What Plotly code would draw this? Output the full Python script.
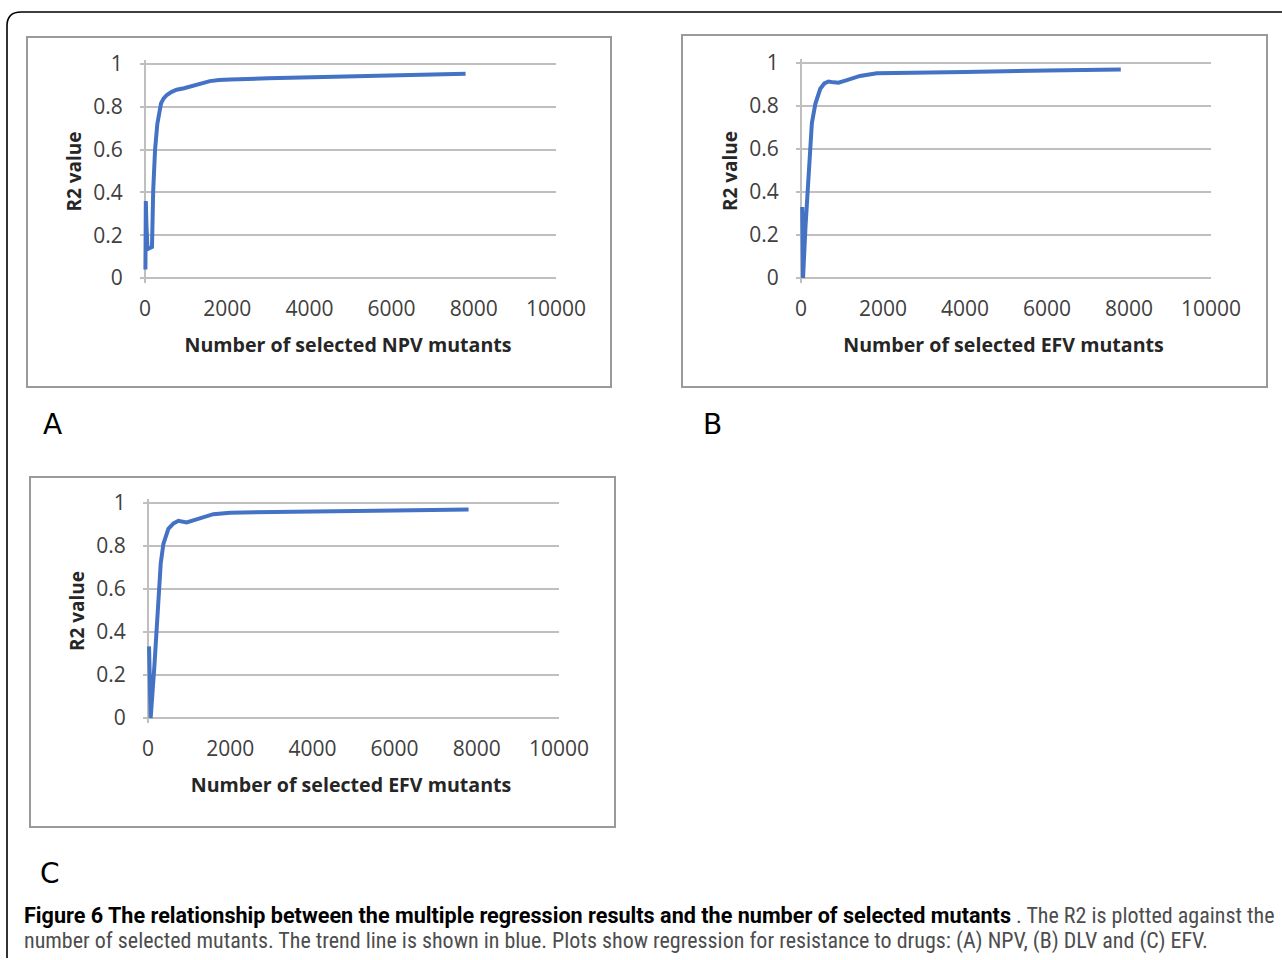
import plotly.graph_objects as go

W, H = 1282, 960

# ---------------- data ----------------
npv_x = [10, 20, 35, 60, 100, 170, 200, 245, 300, 390, 450, 530, 650, 770, 950, 1100, 1350, 1580, 1800, 2070, 3000, 4000, 5000, 6000, 7000, 7800]
npv_y = [0.04, 0.36, 0.25, 0.135, 0.14, 0.145, 0.41, 0.60, 0.72, 0.816, 0.838, 0.855, 0.87, 0.88, 0.887, 0.895, 0.91, 0.92, 0.925, 0.928, 0.933, 0.937, 0.941, 0.946, 0.951, 0.955]

dlv_x = [30, 50, 110, 160, 210, 265, 350, 470, 570, 670, 800, 915, 1120, 1440, 1850, 2500, 4000, 6000, 7800]
dlv_y = [0.33, 0.0, 0.24, 0.41, 0.60, 0.72, 0.81, 0.88, 0.905, 0.914, 0.91, 0.908, 0.92, 0.94, 0.952, 0.955, 0.958, 0.965, 0.97]

efv_x = [25, 65, 155, 210, 250, 310, 375, 495, 620, 740, 940, 1180, 1590, 2000, 2600, 4000, 6000, 7800]
efv_y = [0.333, 0.0, 0.24, 0.41, 0.60, 0.72, 0.81, 0.88, 0.905, 0.917, 0.91, 0.925, 0.948, 0.955, 0.956, 0.959, 0.965, 0.97]

x_ticks = [0, 2000, 4000, 6000, 8000, 10000]
y_ticks = [0, 0.2, 0.4, 0.6, 0.8, 1]
y_tick_text = ["0", "0.2", "0.4", "0.6", "0.8", "1"]

panels = [
    (npv_x, npv_y, "Number of selected NPV mutants", "A"),
    (dlv_x, dlv_y, "Number of selected EFV mutants", "B"),
    (efv_x, efv_y, "Number of selected EFV mutants", "C"),
]

caption_bold = "Figure 6 The relationship between the multiple regression results and the number of selected mutants"
caption_tail = ". The R2 is plotted against the"
caption_line2 = ("number of selected mutants. The trend line is shown in blue. "
                 "Plots show regression for resistance to drugs: (A) NPV, (B) DLV and (C) EFV.")

# ---------------- layout geometry (pixels) ----------------
anchors = [(145, 556, 278, 64), (801, 1211, 278, 63), (148, 559, 718, 503)]
boxes = [(27, 37, 611, 387), (682, 35, 1267, 387), (30, 477, 615, 827)]
letters = [(52, 424), (712, 424), (50, 873)]

XR = (-120, 10000)
YR = (-0.025, 1.02)

BLUE = "#4472C4"
GRID = "#bfbfbf"
TICKC = "#404040"
TF = "Open Sans, Noto Sans, sans-serif"

fig = go.Figure()
layout = dict(
    template="none",
    width=W, height=H, margin=dict(l=0, r=0, t=0, b=0, pad=0), autosize=False,
    paper_bgcolor="white", plot_bgcolor="white", showlegend=False,
)
shapes = []
annotations = []

for i, ((xs, ys, xt, let), (x0, x1, y0, y1), box, lpos) in enumerate(zip(panels, anchors, boxes, letters)):
    n = "" if i == 0 else str(i + 1)
    pxu = (x1 - x0) / 10000.0
    pyu = (y0 - y1) / 1.0
    left = x0 + XR[0] * pxu
    right = x0 + XR[1] * pxu
    bottom = y0 - YR[0] * pyu
    top = y0 - YR[1] * pyu
    fig.add_trace(go.Scatter(
        x=xs, y=ys, mode="lines", line=dict(color=BLUE, width=4),
        xaxis="x" + n, yaxis="y" + n, hoverinfo="skip",
    ))
    layout["xaxis" + n] = dict(
        domain=[left / W, right / W], range=list(XR), anchor="y" + n, automargin=False,
        tickvals=x_ticks, ticktext=[str(v) for v in x_ticks],
        showgrid=False, zeroline=True, zerolinecolor=GRID, zerolinewidth=2,
        showline=False, ticks="outside", ticklen=6, tickcolor="rgba(0,0,0,0)",
        tickfont=dict(family=TF, size=21, color=TICKC),
        title=dict(text="<b>" + xt + "</b>", font=dict(family=TF, size=19.6, color="#262626"), standoff=17),
        fixedrange=True,
    )
    layout["yaxis" + n] = dict(
        domain=[1 - bottom / H, 1 - top / H], range=list(YR), anchor="x" + n, automargin=False,
        tickvals=y_ticks, ticktext=y_tick_text,
        showgrid=True, gridcolor=GRID, gridwidth=2, zeroline=False, showline=False,
        ticks="outside", ticklen=12, tickcolor="rgba(0,0,0,0)",
        tickfont=dict(family=TF, size=21, color=TICKC),
        title=dict(text="<b>R2 value</b>", font=dict(family=TF, size=19, color="#262626"), standoff=6),
        fixedrange=True,
    )
    bx0, by0, bx1, by1 = box
    shapes.append(dict(type="rect", xref="paper", yref="paper",
                       x0=bx0 / W, x1=bx1 / W, y0=1 - by0 / H, y1=1 - by1 / H,
                       line=dict(color="#9a9a9a", width=2), layer="below"))
    annotations.append(dict(text=let, x=lpos[0] / W, y=1 - lpos[1] / H, xref="paper", yref="paper",
                            showarrow=False, xanchor="center", yanchor="middle",
                            font=dict(family="DejaVu Sans, sans-serif", size=28, color="black")))

def P(x, y):
    return f"{x / W:.5f},{1 - y / H:.5f}"

shapes.append(dict(type="path", xref="paper", yref="paper",
                   path=f"M {P(7, 958)} L {P(7, 26)} Q {P(7, 12)} {P(21, 12)} L {P(1282, 12)}",
                   line=dict(color="black", width=1.6)))

CF = "Roboto Condensed, Noto Sans Condensed, Liberation Sans"
annotations.append(dict(
    text="<b>" + caption_bold + "</b>",
    x=22 / W, y=1 - 915 / H, xref="paper", yref="paper", showarrow=False,
    xanchor="left", yanchor="middle", font=dict(family="Roboto, sans-serif", size=21.6, color="black")))
annotations.append(dict(
    text=caption_tail,
    x=1276 / W, y=1 - 915 / H, xref="paper", yref="paper", showarrow=False,
    xanchor="right", yanchor="middle", font=dict(family=CF, size=22, color="#4d4d4d")))
annotations.append(dict(
    text=caption_line2,
    x=22 / W, y=1 - 941 / H, xref="paper", yref="paper", showarrow=False,
    xanchor="left", yanchor="middle", font=dict(family=CF, size=22, color="#4d4d4d")))

layout["shapes"] = shapes
layout["annotations"] = annotations
fig.update_layout(**layout)
fig.write_html(
    "out.html",
    config={"displayModeBar": False},
    post_script="document.body.style.margin='0';document.body.style.overflow='hidden';document.documentElement.style.overflow='hidden';",
)
